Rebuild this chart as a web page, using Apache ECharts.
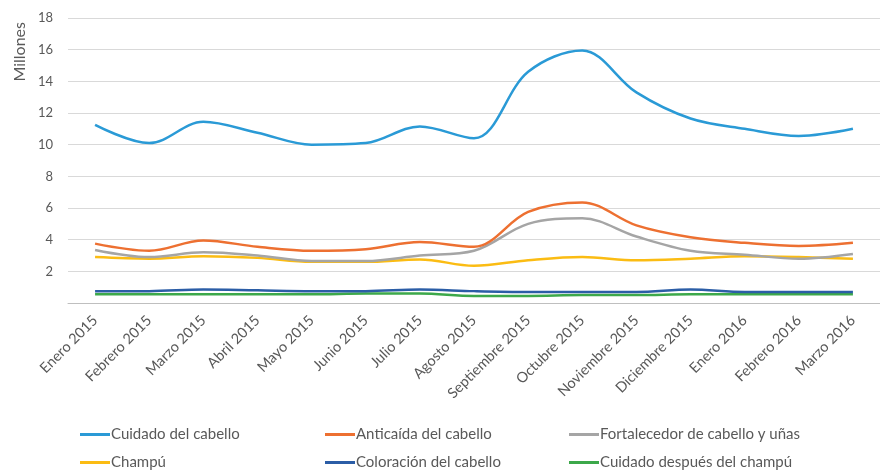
<!DOCTYPE html>
<html lang="es">
<head>
	<meta charset="utf-8">
	<title>Millones</title>
	<script src="https://cdn.jsdelivr.net/npm/echarts@6/dist/echarts.min.js"></script>
	<style>
		html, body { margin: 0; padding: 0; background: #fff; }
		#chart { width: 880px; height: 474px; }
	</style>
</head>
<body>
<div id="chart"></div>
<script type="text/javascript">
	// meses
	var meses = ['Enero 2015', 'Febrero 2015', 'Marzo 2015', 'Abril 2015', 'Mayo 2015', 'Junio 2015',
		'Julio 2015', 'Agosto 2015', 'Septiembre 2015', 'Octubre 2015', 'Noviembre 2015',
		'Diciembre 2015', 'Enero 2016', 'Febrero 2016', 'Marzo 2016'];

	var nombres = ['Cuidado del cabello', 'Anticaída del cabello', 'Fortalecedor de cabello y uñas',
		'Champú', 'Coloración del cabello', 'Cuidado después del champú'];

	// millones
	var cuidado = [11.25, 10.1, 11.45, 10.75, 10.0, 10.1, 11.15, 10.4, 14.6, 15.95, 13.3, 11.65, 11.0, 10.55, 11.0];
	var anticaida = [3.75, 3.3, 3.95, 3.55, 3.3, 3.4, 3.85, 3.55, 5.75, 6.35, 4.9, 4.15, 3.8, 3.6, 3.8];
	var fortalecedor = [3.35, 2.9, 3.2, 3.0, 2.65, 2.65, 3.0, 3.3, 5.0, 5.35, 4.2, 3.3, 3.05, 2.8, 3.1];
	var champu = [2.9, 2.8, 2.95, 2.85, 2.6, 2.6, 2.75, 2.35, 2.7, 2.9, 2.7, 2.8, 2.95, 2.9, 2.8];
	var coloracion = [0.75, 0.75, 0.85, 0.8, 0.75, 0.75, 0.85, 0.75, 0.7, 0.7, 0.7, 0.85, 0.7, 0.7, 0.7];
	var despues = [0.55, 0.55, 0.55, 0.55, 0.55, 0.6, 0.6, 0.45, 0.45, 0.5, 0.5, 0.55, 0.55, 0.55, 0.55];

	var colores = ['#2a9ad6', '#ed7031', '#a5a5a5', '#fbbc13', '#2b5da6', '#3ca84a'];
	var valores = [cuidado, anticaida, fortalecedor, champu, coloracion, despues];

	var fuente = 'Lato, "Liberation Sans", sans-serif';

	var myChart = echarts.init(document.getElementById('chart'));

	// una leyenda por casilla, 3 columnas x 2 filas
	var leyendas = [];
	var colX = [80, 325, 569];
	var filaY = [427, 455];
	for (var i = 0; i < nombres.length; i++) {
		leyendas.push({
			data: [nombres[i]],
			left: colX[i % 3],
			top: filaY[Math.floor(i / 3)],
			icon: 'rect',
			itemWidth: 30,
			itemHeight: 3,
			itemGap: 0,
			padding: 0,
			textStyle: { color: '#595959', fontSize: 15, fontFamily: fuente, padding: [0, 0, 0, -4] }
		});
	}

	var series = [];
	for (var j = 0; j < nombres.length; j++) {
		series.push({
			name: nombres[j],
			type: 'line',
			data: valores[j],
			smooth: 0.35,
			symbol: 'none',
			lineStyle: { width: 2.5, color: colores[j] },
			itemStyle: { color: colores[j] },
			z: 10 - j
		});
	}

	var option = {
		animation: false,
		color: colores,
		grid: { left: 68, right: -3, top: 18, bottom: 171 },
		legend: leyendas,
		graphic: [{
			type: 'text',
			left: 12,
			top: 22,
			rotation: Math.PI / 2,
			style: { text: 'Millones', fill: '#595959', fontSize: 16, fontFamily: fuente }
		}],
		xAxis: {
			type: 'category',
			data: meses,
			boundaryGap: true,
			axisLine: { lineStyle: { color: '#bfbfbf', width: 1 } },
			axisTick: { show: false },
			axisLabel: { rotate: 45, color: '#595959', fontSize: 14.5, fontFamily: fuente, margin: 15, interval: 0 }
		},
		yAxis: {
			type: 'value',
			min: 0,
			max: 18,
			interval: 2,
			axisLine: { show: false },
			axisTick: { show: false },
			splitLine: { lineStyle: { color: '#d9d9d9', width: 1 } },
			axisLabel: { color: '#595959', fontSize: 13, fontFamily: fuente, margin: 15, showMinLabel: false }
		},
		series: series
	};
	myChart.setOption(option);
</script>
</body>
</html>
